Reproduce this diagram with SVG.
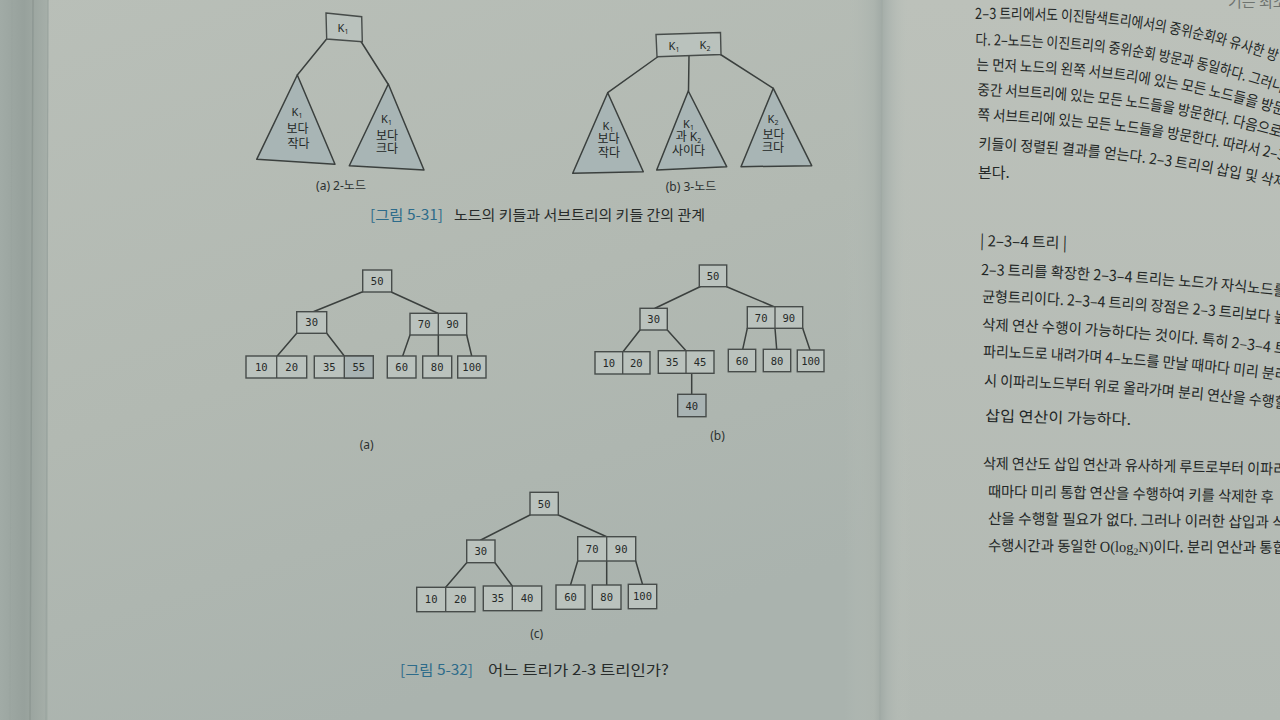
<svg xmlns="http://www.w3.org/2000/svg" width="1280" height="720" viewBox="0 0 1280 720">
<defs>
  <linearGradient id="pageL" x1="0" y1="0" x2="0.4" y2="1">
    <stop offset="0" stop-color="#b9bfb8"/>
    <stop offset="0.55" stop-color="#b2b9b2"/>
    <stop offset="1" stop-color="#aab3ae"/>
  </linearGradient>
  <linearGradient id="pageR" x1="0" y1="0" x2="0" y2="1">
    <stop offset="0" stop-color="#bcc1ba"/>
    <stop offset="1" stop-color="#b2b9b3"/>
  </linearGradient>
  <linearGradient id="gutter" x1="0" y1="0" x2="1" y2="0">
    <stop offset="0" stop-color="#b5bcb6" stop-opacity="0"/>
    <stop offset="0.45" stop-color="#acb4ae"/>
    <stop offset="0.55" stop-color="#a3aca7"/>
    <stop offset="0.65" stop-color="#acb4af"/>
    <stop offset="1" stop-color="#bcc2bb" stop-opacity="0"/>
  </linearGradient>
  <linearGradient id="edge" x1="0" y1="0" x2="1" y2="0">
    <stop offset="0" stop-color="#a1aba6"/>
    <stop offset="0.5" stop-color="#97a19c"/>
    <stop offset="1" stop-color="#a6afa9"/>
  </linearGradient>
  <path id="p1" d="M975,19 C1090,19 1170,24 1290,66"/>
  <path id="p2" d="M975,45 C1090,47 1170,55 1290,95"/>
  <path id="p3" d="M976,70 C1090,73 1170,82 1290,117"/>
  <path id="p4" d="M977,95 C1090,99 1170,108 1290,140"/>
  <path id="p5" d="M977,120 C1090,125 1170,135 1290,162"/>
  <path id="p6" d="M978,149 C1090,154 1170,163 1290,189"/>
  <path id="qa" d="M981,275 Q1130,279 1290,297"/>
  <path id="qb" d="M982,302 Q1130,306 1290,324"/>
  <path id="qc" d="M982,330 Q1130,334 1290,355"/>
  <path id="qd" d="M983,357 Q1130,361 1290,381"/>
  <path id="qe" d="M984,386 Q1130,390 1290,409"/>
  <path id="ga" d="M983,469 Q1130,470 1290,475"/>
  <path id="gb" d="M988,497 Q1130,498 1290,503"/>
  <path id="gc" d="M988,524 Q1130,525 1290,528"/>
  <path id="gd" d="M988,551 Q1130,552 1290,553"/>
</defs>
<style>
  .ln{stroke:#3b403e;stroke-width:1.5;fill:none;stroke-linecap:round}
  .bx{fill:#bac2bd;stroke:#474c4a;stroke-width:1.4}
  .bxd{fill:#a8b3b3;stroke:#474c4a;stroke-width:1.4}
  .dv{stroke:#474c4a;stroke-width:1.3}
  .tri{fill:#a8b5b5;stroke:#3b403e;stroke-width:1.5;stroke-linejoin:round}
  .num{font-family:"DejaVu Sans Mono","Liberation Mono",monospace;font-size:10.5px;fill:#252928;text-anchor:middle}
  .k{font-family:"Noto Sans","Liberation Sans",sans-serif;font-size:11px;fill:#232726;text-anchor:middle}
  .ko{font-family:"Noto Sans","Noto Sans CJK KR",sans-serif;font-size:12px;fill:#232726;text-anchor:middle}
  .lbl{font-family:"Noto Sans","Noto Sans CJK KR",sans-serif;font-size:12px;fill:#2d3130;text-anchor:middle}
  .cap{font-family:"Noto Sans CJK KR",sans-serif;font-size:14px;fill:#272b2a}
  .capn{fill:#2d6b8a}
  .body{font-family:"Noto Sans CJK KR",sans-serif;font-size:15px;fill:#232726}
</style>

<!-- paper -->
<rect x="0" y="0" width="890" height="720" fill="url(#pageL)"/>
<rect x="885" y="0" width="395" height="720" fill="url(#pageR)"/>
<rect x="845" y="0" width="65" height="720" fill="url(#gutter)"/>
<line x1="882" y1="0" x2="880" y2="720" stroke="#a0a9a4" stroke-width="1.2"/>
<rect x="0" y="0" width="48" height="720" fill="url(#edge)"/>
<line x1="33" y1="0" x2="30" y2="720" stroke="#8e9893" stroke-width="1.5"/>
<line x1="48" y1="0" x2="46" y2="720" stroke="#9aa49f" stroke-width="1.2"/>
<line x1="12" y1="0" x2="10" y2="720" stroke="#9aa49f" stroke-width="1"/>

<g id="connectors">
  <!-- 5-31 -->
  <line class="ln" x1="327" y1="38.5" x2="297.3" y2="75"/>
  <line class="ln" x1="361" y1="41.5" x2="388" y2="84"/>
  <line class="ln" x1="657.5" y1="57" x2="607.7" y2="92.7"/>
  <line class="ln" x1="689" y1="55.5" x2="688.5" y2="91"/>
  <line class="ln" x1="720.5" y1="54.5" x2="773.3" y2="88.3"/>
  <!-- 5-32 (a) -->
  <line class="ln" x1="362.7" y1="291.7" x2="313.3" y2="311.7"/>
  <line class="ln" x1="391.7" y1="292.3" x2="437.8" y2="313.3"/>
  <line class="ln" x1="296.7" y1="333.3" x2="277.2" y2="356"/>
  <line class="ln" x1="326.7" y1="333.3" x2="344.3" y2="356"/>
  <line class="ln" x1="410" y1="335" x2="402.7" y2="356"/>
  <line class="ln" x1="438.3" y1="335" x2="438.3" y2="356"/>
  <line class="ln" x1="466.7" y1="335" x2="471.7" y2="356"/>
  <!-- 5-32 (b) -->
  <line class="ln" x1="700" y1="286.7" x2="655" y2="308.3"/>
  <line class="ln" x1="726.7" y1="286.7" x2="774" y2="306.7"/>
  <line class="ln" x1="640" y1="330" x2="623" y2="351.7"/>
  <line class="ln" x1="667.3" y1="330" x2="686" y2="350.7"/>
  <line class="ln" x1="747.3" y1="328.3" x2="742.7" y2="349.3"/>
  <line class="ln" x1="775" y1="328.3" x2="776.7" y2="349.3"/>
  <line class="ln" x1="802.7" y1="328.3" x2="810" y2="350"/>
  <line class="ln" x1="691.7" y1="373.3" x2="691.7" y2="394.3"/>
  <!-- 5-32 (c) -->
  <line class="ln" x1="530" y1="515" x2="480.8" y2="540"/>
  <line class="ln" x1="558.3" y1="515" x2="606.7" y2="536.7"/>
  <line class="ln" x1="466.7" y1="562.7" x2="445.7" y2="587.3"/>
  <line class="ln" x1="495" y1="562.7" x2="512.3" y2="586"/>
  <line class="ln" x1="577.7" y1="561" x2="570.5" y2="585"/>
  <line class="ln" x1="606.7" y1="561" x2="606.7" y2="585"/>
  <line class="ln" x1="635.7" y1="561" x2="642.5" y2="584.3"/>
</g>

<!-- ===== Figure 5-31 ===== -->
<g id="f31a-root">
  <polygon class="bx" points="326,13 361.7,16.7 362.3,41.7 326.7,39"/>
  <text class="k" x="343" y="32">K<tspan font-size="7" dy="2">1</tspan></text>
</g>
<g id="f31a-left">
  <polygon class="tri" points="297.3,75 256.7,159.3 335,164.3"/>
  <text class="k" x="297" y="116">K<tspan font-size="7" dy="2">1</tspan></text>
  <text class="ko" x="297.5" y="133">보다</text>
  <text class="ko" x="298.5" y="148">작다</text>
</g>
<g id="f31a-right">
  <polygon class="tri" points="388.3,84 349.3,165.7 424,170"/>
  <text class="k" x="386.5" y="123">K<tspan font-size="7" dy="2">1</tspan></text>
  <text class="ko" x="387" y="140">보다</text>
  <text class="ko" x="387" y="153">크다</text>
</g>
<text class="lbl" x="341" y="190">(a) 2-노드</text>

<g id="f31b-root">
  <polygon class="bx" points="656,34.5 720.5,32.5 721,54.5 657,56.8"/>
  <text class="k" x="674" y="50">K<tspan font-size="7" dy="2">1</tspan></text>
  <text class="k" x="705" y="49">K<tspan font-size="7" dy="2">2</tspan></text>
</g>
<g id="f31b-left">
  <polygon class="tri" points="607.7,92.7 572.7,173.3 643.3,171.7"/>
  <text class="k" x="608" y="130">K<tspan font-size="7" dy="2">1</tspan></text>
  <text class="ko" x="608.5" y="143">보다</text>
  <text class="ko" x="609" y="157">작다</text>
</g>
<g id="f31b-mid">
  <polygon class="tri" points="688.3,91 656.7,170 726.7,166.7"/>
  <text class="k" x="688.5" y="128">K<tspan font-size="7" dy="2">1</tspan></text>
  <text class="ko" x="688.5" y="141">과 K<tspan font-size="7" dy="2">2</tspan></text>
  <text class="ko" x="688.5" y="155">사이다</text>
</g>
<g id="f31b-right">
  <polygon class="tri" points="773.3,88.3 741,166.7 811.7,165.7"/>
  <text class="k" x="773" y="123">K<tspan font-size="7" dy="2">2</tspan></text>
  <text class="ko" x="773.5" y="139">보다</text>
  <text class="ko" x="773" y="152">크다</text>
</g>
<text class="lbl" x="691" y="191">(b) 3-노드</text>

<text class="cap" x="370" y="220"><tspan class="capn" x="370" textLength="73" lengthAdjust="spacingAndGlyphs">[그림 5-31]</tspan><tspan x="454" textLength="251" lengthAdjust="spacingAndGlyphs">노드의 키들과 서브트리의 키들 간의 관계</tspan></text>

<!-- ===== Figure 5-32 (a) ===== -->
<g id="a-50"><rect class="bx" x="362.7" y="270" width="29" height="22"/><text class="num" x="377.2" y="285">50</text></g>
<g id="a-30"><rect class="bx" x="296.7" y="311.7" width="30" height="21.6"/><text class="num" x="311.7" y="326.3">30</text></g>
<g id="a-7090"><rect class="bx" x="410" y="313.3" width="56.7" height="21.7"/><line class="dv" x1="438.3" y1="313.3" x2="438.3" y2="335"/><text class="num" x="424.2" y="328">70</text><text class="num" x="452.5" y="328">90</text></g>
<g id="a-1020"><rect class="bx" x="246" y="356" width="60.7" height="22"/><line class="dv" x1="276.7" y1="356" x2="276.7" y2="378"/><text class="num" x="261.3" y="371">10</text><text class="num" x="291.7" y="371">20</text></g>
<g id="a-3555"><rect class="bx" x="314.3" y="356" width="59" height="22"/><rect class="bxd" x="344.3" y="356" width="29" height="22"/><text class="num" x="329.3" y="371">35</text><text class="num" x="358.8" y="371">55</text></g>
<g id="a-60"><rect class="bx" x="387.3" y="356" width="28.7" height="22"/><text class="num" x="401.7" y="371">60</text></g>
<g id="a-80"><rect class="bx" x="422.7" y="356" width="29" height="22"/><text class="num" x="437.2" y="371">80</text></g>
<g id="a-100"><rect class="bx" x="457.7" y="356" width="28.3" height="22"/><text class="num" x="471.8" y="371">100</text></g>
<text class="lbl" x="366.7" y="449">(a)</text>

<!-- ===== Figure 5-32 (b) ===== -->
<g id="b-50"><rect class="bx" x="699.3" y="265" width="27.4" height="21.7"/><text class="num" x="713" y="279.8">50</text></g>
<g id="b-30"><rect class="bx" x="640" y="308.3" width="27.3" height="21.7"/><text class="num" x="653.7" y="323">30</text></g>
<g id="b-7090"><rect class="bx" x="747.3" y="306.7" width="55.4" height="21.6"/><line class="dv" x1="775" y1="306.7" x2="775" y2="328.3"/><text class="num" x="761.2" y="321.5">70</text><text class="num" x="788.8" y="321.5">90</text></g>
<g id="b-1020"><rect class="bx" x="595" y="351.7" width="55" height="22.3"/><line class="dv" x1="622.7" y1="351.7" x2="622.7" y2="374"/><text class="num" x="608.8" y="366.8">10</text><text class="num" x="636.3" y="366.8">20</text></g>
<g id="b-3545"><rect class="bx" x="658.3" y="350.7" width="55.7" height="22.6"/><line class="dv" x1="686" y1="350.7" x2="686" y2="373.3"/><text class="num" x="672.2" y="366">35</text><text class="num" x="700" y="366">45</text></g>
<g id="b-60"><rect class="bx" x="728.3" y="349.3" width="27.4" height="22.4"/><text class="num" x="742" y="364.5">60</text></g>
<g id="b-80"><rect class="bx" x="763.3" y="349.3" width="27.4" height="22.4"/><text class="num" x="777" y="364.5">80</text></g>
<g id="b-100"><rect class="bx" x="797.3" y="350" width="26.7" height="21.7"/><text class="num" x="810.7" y="364.8">100</text></g>
<g id="b-40"><rect class="bxd" x="677.7" y="394.3" width="28.3" height="22.4"/><text class="num" x="691.8" y="409.5">40</text></g>
<text class="lbl" x="717.5" y="440">(b)</text>

<!-- ===== Figure 5-32 (c) ===== -->
<g id="c-50"><rect class="bx" x="530" y="492.3" width="28.3" height="22.7"/><text class="num" x="544.2" y="507.5">50</text></g>
<g id="c-30"><rect class="bx" x="466.7" y="540" width="28.3" height="22.7"/><text class="num" x="480.8" y="555.1">30</text></g>
<g id="c-7090"><rect class="bx" x="577.7" y="536.7" width="58" height="24.3"/><line class="dv" x1="606.7" y1="536.7" x2="606.7" y2="561"/><text class="num" x="592.2" y="552.6">70</text><text class="num" x="621.2" y="552.6">90</text></g>
<g id="c-1020"><rect class="bx" x="416.7" y="587.3" width="58.3" height="24.4"/><line class="dv" x1="445.7" y1="587.3" x2="445.7" y2="611.7"/><text class="num" x="431.2" y="603.3">10</text><text class="num" x="460.3" y="603.3">20</text></g>
<g id="c-3540"><rect class="bx" x="483.3" y="586" width="58.4" height="24.7"/><line class="dv" x1="512.3" y1="586" x2="512.3" y2="610.7"/><text class="num" x="497.8" y="602.1">35</text><text class="num" x="527" y="602.1">40</text></g>
<g id="c-60"><rect class="bx" x="556" y="585" width="29" height="24.3"/><text class="num" x="570.5" y="601">60</text></g>
<g id="c-80"><rect class="bx" x="592.3" y="585" width="28.7" height="24.3"/><text class="num" x="606.7" y="601">80</text></g>
<g id="c-100"><rect class="bx" x="628.3" y="584.3" width="28.4" height="24.4"/><text class="num" x="642.5" y="600.3">100</text></g>
<text class="lbl" x="536.7" y="638">(c)</text>

<text class="cap" x="400" y="675"><tspan class="capn" x="400" textLength="73" lengthAdjust="spacingAndGlyphs">[그림 5-32]</tspan><tspan x="488" textLength="181" lengthAdjust="spacingAndGlyphs">어느 트리가 2-3 트리인가?</tspan></text>

<!-- ===== Right page text ===== -->
<text class="body" x="1228" y="7" font-size="12" opacity="0.5">기는 최소</text>
<text class="body"><textPath href="#p1" textLength="306" lengthAdjust="spacingAndGlyphs">2–3 트리에서도 이진탐색트리에서의 중위순회와 유사한 방</textPath></text>
<text class="body"><textPath href="#p2" textLength="312" lengthAdjust="spacingAndGlyphs">다. 2–노드는 이진트리의 중위순회 방문과 동일하다. 그러니</textPath></text>
<text class="body"><textPath href="#p3" textLength="312" lengthAdjust="spacingAndGlyphs">는 먼저 노드의 왼쪽 서브트리에 있는 모든 노드들을 방문</textPath></text>
<text class="body"><textPath href="#p4" textLength="307" lengthAdjust="spacingAndGlyphs">중간 서브트리에 있는 모든 노드들을 방문한다. 다음으로</textPath></text>
<text class="body"><textPath href="#p5" textLength="310" lengthAdjust="spacingAndGlyphs">쪽 서브트리에 있는 모든 노드들을 방문한다. 따라서 2–3</textPath></text>
<text class="body"><textPath href="#p6" textLength="310" lengthAdjust="spacingAndGlyphs">키들이 정렬된 결과를 얻는다. 2–3 트리의 삽입 및 삭제</textPath></text>
<text class="body" x="978" y="178">본다.</text>

<text class="body" x="980" y="246" fill="#2c3a40" transform="rotate(1.5 980 246)">| 2–3–4 트리 |</text>
<text class="body"><textPath href="#qa" textLength="306" lengthAdjust="spacingAndGlyphs">2–3 트리를 확장한 2–3–4 트리는 노드가 자식노드를</textPath></text>
<text class="body"><textPath href="#qb" textLength="305" lengthAdjust="spacingAndGlyphs">균형트리이다. 2–3–4 트리의 장점은 2–3 트리보다 높</textPath></text>
<text class="body"><textPath href="#qc" textLength="306" lengthAdjust="spacingAndGlyphs">삭제 연산 수행이 가능하다는 것이다. 특히 2–3–4 트</textPath></text>
<text class="body"><textPath href="#qd" textLength="305" lengthAdjust="spacingAndGlyphs">파리노드로 내려가며 4–노드를 만날 때마다 미리 분리</textPath></text>
<text class="body"><textPath href="#qe" textLength="304" lengthAdjust="spacingAndGlyphs">시 이파리노드부터 위로 올라가며 분리 연산을 수행할</textPath></text>
<text class="body" x="985" y="421" transform="rotate(1.5 985 421)" textLength="146" lengthAdjust="spacingAndGlyphs">삽입 연산이 가능하다.</text>

<text class="body"><textPath href="#ga" textLength="303" lengthAdjust="spacingAndGlyphs">삭제 연산도 삽입 연산과 유사하게 루트로부터 이파리</textPath></text>
<text class="body"><textPath href="#gb" textLength="286" lengthAdjust="spacingAndGlyphs">때마다 미리 통합 연산을 수행하여 키를 삭제한 후</textPath></text>
<text class="body"><textPath href="#gc" textLength="298" lengthAdjust="spacingAndGlyphs">산을 수행할 필요가 없다. 그러나 이러한 삽입과 삭</textPath></text>
<text class="body"><textPath href="#gd" textLength="298" lengthAdjust="spacingAndGlyphs">수행시간과 동일한 <tspan font-family="Liberation Serif, serif">O(log</tspan><tspan font-family="Liberation Serif, serif" font-size="10" dy="3">2</tspan><tspan font-family="Liberation Serif, serif" dy="-3">N)</tspan>이다. 분리 연산과 통합</textPath></text>
</svg>
